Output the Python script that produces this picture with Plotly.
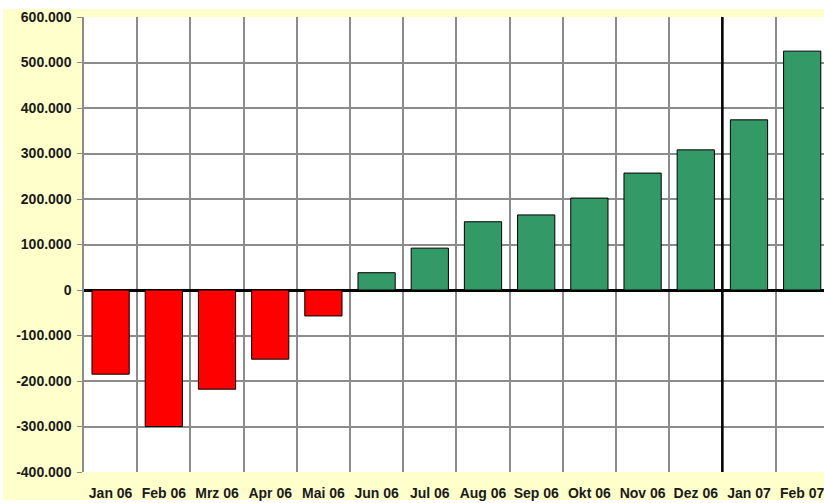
import plotly.graph_objects as go

months = ["Jan 06", "Feb 06", "Mrz 06", "Apr 06", "Mai 06", "Jun 06", "Jul 06",
          "Aug 06", "Sep 06", "Okt 06", "Nov 06", "Dez 06", "Jan 07", "Feb 07"]
values = [-185000, -300000, -218000, -152000, -57000, 38000, 92000,
          150000, 165000, 202000, 257000, 308000, 374000, 525000]
y_tick_vals = [-400000, -300000, -200000, -100000, 0, 100000, 200000, 300000, 400000, 500000, 600000]
y_tick_text = ["-400.000", "-300.000", "-200.000", "-100.000", "0", "100.000", "200.000",
               "300.000", "400.000", "500.000", "600.000"]

colors = ["#FF0000" if v < 0 else "#339966" for v in values]

W, H = 824, 503
ML, MR, MT, MB = 84, 0, 17, 31
pw, ph = W - ML - MR, H - MT - MB

fig = go.Figure(go.Bar(
    x=months, y=values, width=0.7,
    marker=dict(color=colors, line=dict(color="#000000", width=1)),
))

font = dict(family="Liberation Sans, Arial, sans-serif", size=14, color="#1a1a1a", weight="bold")

fig.update_layout(
    width=W, height=H,
    margin=dict(l=ML, r=MR, t=MT, b=MB, autoexpand=False),
    paper_bgcolor="#FFFFCC",
    plot_bgcolor="#FFFFFF",
    showlegend=False,
    xaxis=dict(
        type="category", range=[-0.5, 13.41], tickson="boundaries",
        showgrid=True, gridcolor="#8c8c8c", gridwidth=1.5,
        ticks="", tickfont=font, showline=False, fixedrange=True,
        ticklabelstandoff=11, tickangle=0, automargin=False,
    ),
    yaxis=dict(
        range=[-400000, 600000], tickvals=y_tick_vals, ticktext=y_tick_text,
        showgrid=True, gridcolor="#8c8c8c", gridwidth=1.5,
        zeroline=True, zerolinecolor="#000000", zerolinewidth=3,
        ticks="outside", ticklen=5, tickcolor="#8c8c8c",
        showline=True, linecolor="#8c8c8c", linewidth=1.5,
        tickfont=font, ticklabelstandoff=3, automargin=False,
    ),
    shapes=[
        dict(type="rect", xref="paper", yref="paper", x0=-ML / pw - 0.05, x1=1.05,
             y0=1 + (MT - 9) / ph, y1=1 + MT / ph + 0.05,
             fillcolor="#FFFFFF", line=dict(width=0), layer="below"),
        dict(type="rect", xref="paper", yref="paper", x0=-ML / pw - 0.05, x1=(3 - ML) / pw,
             y0=-MB / ph - 0.05, y1=1.1, fillcolor="#FFFFFF", line=dict(width=0), layer="below"),
        dict(type="rect", xref="paper", yref="paper", x0=-ML / pw - 0.05, x1=1.05,
             y0=-MB / ph - 0.05, y1=-(MB - 3) / ph, fillcolor="#FFFFFF", line=dict(width=0), layer="below"),
        dict(type="line", xref="x", yref="paper", x0=11.5, x1=11.5, y0=0, y1=1,
             line=dict(color="#000000", width=2.5)),
    ],
)

fig.write_html("out.html", config={"displayModeBar": False},
               post_script="document.body.style.margin='0';document.body.style.overflow='hidden';")
